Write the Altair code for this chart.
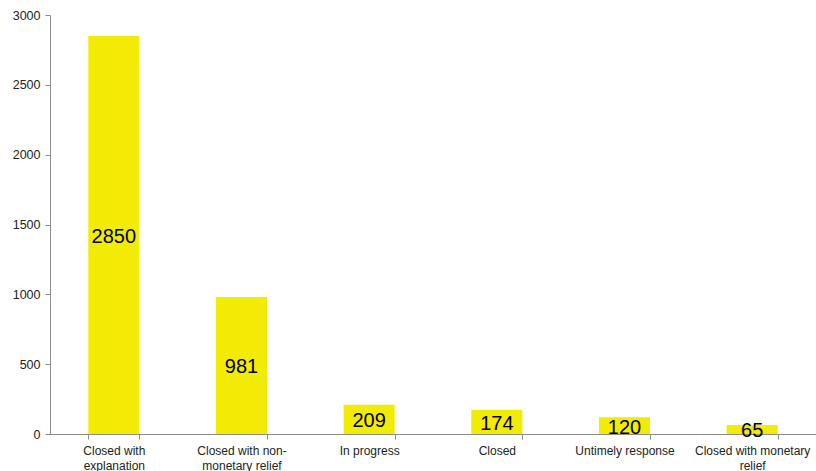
import altair as alt
import pandas as pd

categories = ["Closed with explanation", "Closed with non-monetary relief", "In progress",
              "Closed", "Untimely response", "Closed with monetary relief"]
label_lines = [["Closed with", "explanation"], ["Closed with non-", "monetary relief"], ["In progress"],
               ["Closed"], ["Untimely response"], ["Closed with monetary", "relief"]]
values = [2850, 981, 209, 174, 120, 65]

df = pd.DataFrame({"category": categories, "value": values})

expr_parts = []
for c, lines in zip(categories, label_lines):
    arr = "[" + ",".join("'" + l + "'" for l in lines) + "]"
    expr_parts.append(f"datum.label == '{c}' ? {arr}")
label_expr = " : ".join(expr_parts) + " : datum.label"

FONT = "Liberation Sans"

base = alt.Chart(df).encode(
    x=alt.X("category:N", sort=categories, title=None,
            scale=alt.Scale(paddingInner=0.6, paddingOuter=0.3),
            axis=alt.Axis(labelAngle=0, labelExpr=label_expr, tickBand="extent",
                          labelFont=FONT, labelFontSize=12, labelColor="#222222",
                          labelLineHeight=15, labelPadding=6, tickSize=5,
                          domainColor="#8c8c8c", tickColor="#8c8c8c", labelBaseline="top")),
)

bars = base.mark_bar(color="#F2EB06").encode(
    y=alt.Y("value:Q", title=None,
            scale=alt.Scale(domain=[0, 3000], nice=False),
            axis=alt.Axis(values=[0, 500, 1000, 1500, 2000, 2500, 3000], grid=False, format="d",
                          labelFont=FONT, labelFontSize=12.5, labelColor="#222222",
                          tickSize=5, labelPadding=5,
                          domainColor="#8c8c8c", tickColor="#8c8c8c")),
)

text = base.transform_calculate(mid="datum.value / 2").mark_text(
    font=FONT, fontSize=20, color="#000000", baseline="middle", align="center", dy=2
).encode(
    y=alt.Y("mid:Q"),
    text=alt.Text("value:Q"),
)

chart = (bars + text).properties(
    width=766, height=419,
    autosize=alt.AutoSizeParams(type="none"),
    padding={"left": 50, "top": 15, "right": 0, "bottom": 37},
    background="white",
).configure_view(stroke=None)

chart.save("out.html", embed_options={"renderer": "svg", "actions": False})
